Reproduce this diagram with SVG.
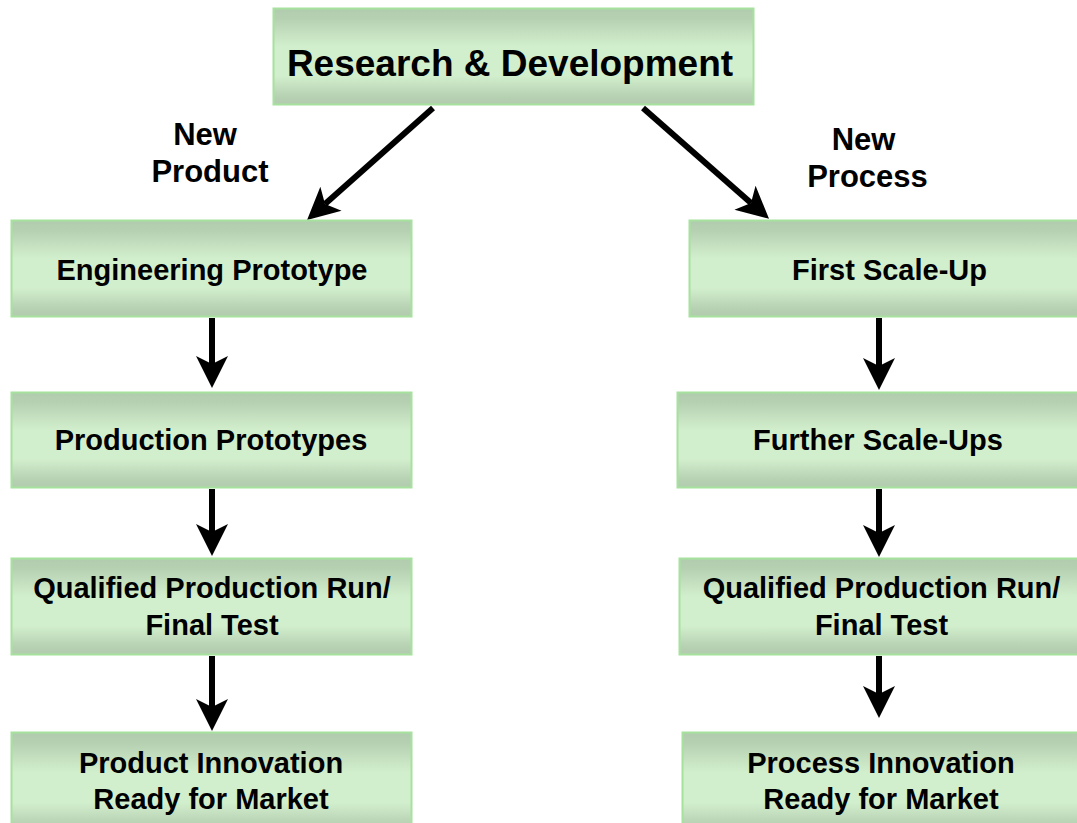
<svg xmlns="http://www.w3.org/2000/svg" width="1077" height="823" viewBox="0 0 1077 823">
  <style>
    .box { fill: url(#boxFill); stroke: #a6e29e; stroke-width: 2; }
    .lbl { font-family: "Liberation Sans", Arial, sans-serif; font-weight: bold; font-size: 29px; fill: #000; text-anchor: middle; }
    .title { font-size: 37px; }
    .side { font-size: 31px; }
    .conn { stroke: #000; stroke-width: 6; fill: none; marker-end: url(#head); }
  </style>
  <defs>
    <linearGradient id="boxFill" x1="0" y1="0" x2="0" y2="1">
      <stop offset="0" stop-color="#b2cbaf"/>
      <stop offset="0.1" stop-color="#b5d0b1"/>
      <stop offset="0.4" stop-color="#d2efcd"/>
      <stop offset="0.7" stop-color="#d2efcd"/>
      <stop offset="0.92" stop-color="#b6d0b2"/>
      <stop offset="1" stop-color="#b2cbaf"/>
    </linearGradient>
    <!-- notched arrowhead; the line ends at the notch -->
    <marker id="head" markerUnits="userSpaceOnUse" markerWidth="36" markerHeight="36" viewBox="-10 -18 36 36" refX="0" refY="0" orient="auto">
      <path d="M24,0 L-8,-16 L0,0 L-8,16 Z" fill="#000"/>
    </marker>
  </defs>

  <rect width="1077" height="823" fill="#fff"/>

  <!-- connectors -->
  <g id="connectors">
    <line class="conn" x1="433" y1="108" x2="325" y2="204"/>
    <line class="conn" x1="643" y1="108" x2="751" y2="203"/>
    <line class="conn" x1="212" y1="318" x2="212" y2="364"/>
    <line class="conn" x1="212" y1="489" x2="212" y2="532"/>
    <line class="conn" x1="212" y1="656" x2="212" y2="707"/>
    <line class="conn" x1="879" y1="318" x2="879" y2="366"/>
    <line class="conn" x1="879" y1="489" x2="879" y2="533"/>
    <line class="conn" x1="879" y1="656" x2="879" y2="694"/>
  </g>

  <!-- branch labels -->
  <g id="label-new-product">
    <text class="lbl side" x="205" y="145">New</text>
    <text class="lbl side" x="210" y="182">Product</text>
  </g>
  <g id="label-new-process">
    <text class="lbl side" x="863.5" y="150">New</text>
    <text class="lbl side" x="867.5" y="187">Process</text>
  </g>

  <!-- root -->
  <g id="research-development">
    <rect class="box" x="273.5" y="8.5" width="480" height="96"/>
    <text class="lbl title" x="510" y="76">Research &amp; Development</text>
  </g>

  <!-- product branch -->
  <g id="engineering-prototype">
    <rect class="box" x="11.5" y="220.5" width="400" height="96"/>
    <text class="lbl" x="212" y="280">Engineering Prototype</text>
  </g>
  <g id="production-prototypes">
    <rect class="box" x="11.5" y="392.5" width="400" height="95"/>
    <text class="lbl" x="211" y="450">Production Prototypes</text>
  </g>
  <g id="qualified-run-product">
    <rect class="box" x="11.5" y="558.5" width="400" height="96"/>
    <text class="lbl" x="212" y="598">Qualified Production Run/</text>
    <text class="lbl" x="212" y="635">Final Test</text>
  </g>
  <g id="product-innovation">
    <rect class="box" x="11.5" y="732.5" width="400" height="100"/>
    <text class="lbl" x="211" y="773">Product Innovation</text>
    <text class="lbl" x="211" y="809">Ready for Market</text>
  </g>

  <!-- process branch -->
  <g id="first-scale-up">
    <rect class="box" x="689.5" y="220.5" width="400" height="96"/>
    <text class="lbl" x="889.5" y="280">First Scale-Up</text>
  </g>
  <g id="further-scale-ups">
    <rect class="box" x="677.5" y="392.5" width="410" height="95"/>
    <text class="lbl" x="878" y="450">Further Scale-Ups</text>
  </g>
  <g id="qualified-run-process">
    <rect class="box" x="679.5" y="558.5" width="410" height="96"/>
    <text class="lbl" x="881.5" y="598">Qualified Production Run/</text>
    <text class="lbl" x="881.5" y="635">Final Test</text>
  </g>
  <g id="process-innovation">
    <rect class="box" x="682.5" y="732.5" width="410" height="100"/>
    <text class="lbl" x="881" y="773">Process Innovation</text>
    <text class="lbl" x="881" y="809">Ready for Market</text>
  </g>
</svg>
